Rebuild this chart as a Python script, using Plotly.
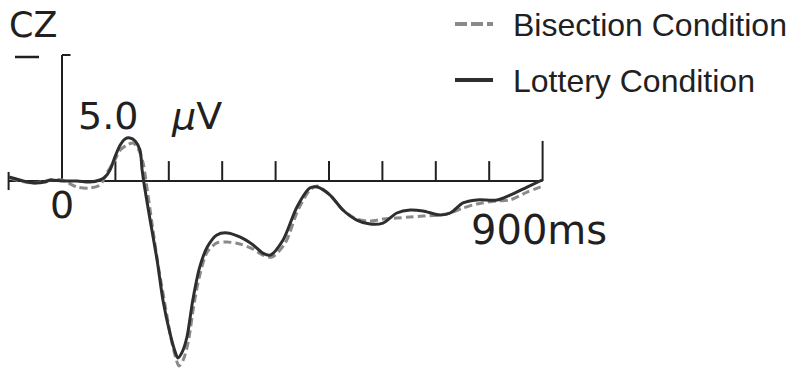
import plotly.graph_objects as go

# ---- data (time in ms, amplitude in microvolts; negative plotted up) ----
lottery_t = [-99, -79, -54, -32, -22, 0, 28, 52, 71, 81, 90, 99, 109, 118, 127, 137, 146, 150, 154,
             165, 178, 189, 202, 212, 217, 225, 234, 245, 258, 272, 290, 309, 333, 358, 376, 390,
             414, 440, 464, 478, 502, 526, 552, 577, 601, 627, 652, 676, 708, 727, 751, 777, 815,
             839, 871, 899]
lottery_v = [-0.16, -0.04, 0.08, 0.04, -0.04, 0.0, 0.0, 0.04, -0.04, -0.16, -0.44, -0.95, -1.43, -1.67,
             -1.71, -1.59, -1.23, -0.44, 0.16, 1.55, 3.13, 4.72, 6.03, 6.79, 7.02, 6.79, 6.19, 4.72,
             3.41, 2.62, 2.14, 2.06, 2.22, 2.54, 2.86, 2.94, 2.34, 1.03, 0.28, 0.24, 0.56, 1.15,
             1.55, 1.71, 1.67, 1.27, 1.15, 1.19, 1.35, 1.27, 0.87, 0.75, 0.75, 0.56, 0.24, -0.04]

bisection_t = [-97, -79, -54, -22, 0, 28, 52, 71, 84, 99, 109, 122, 133, 142, 152, 157, 169, 180, 193,
               204, 213, 219, 227, 236, 247, 258, 272, 290, 309, 333, 358, 376, 393, 418, 442, 464,
               478, 502, 526, 552, 577, 601, 627, 652, 676, 708, 727, 751, 777, 815, 839, 871, 901]
bisection_v = [-0.12, 0.0, 0.08, -0.04, -0.04, 0.24, 0.28, 0.16, -0.32, -0.83, -1.23, -1.43, -1.51,
               -1.31, -0.71, -0.04, 1.75, 3.33, 4.92, 6.23, 7.02, 7.34, 7.10, 6.43, 4.92, 3.73, 2.82,
               2.46, 2.42, 2.50, 2.70, 2.94, 3.02, 2.46, 1.15, 0.36, 0.20, 0.56, 1.15, 1.51, 1.59,
               1.51, 1.47, 1.43, 1.39, 1.35, 1.27, 1.07, 0.91, 0.79, 0.75, 0.44, 0.20]

series_names = ["Bisection Condition", "Lottery Condition"]
x_ticks = [100, 200, 300, 400, 500, 600, 700, 800]
t_start, t_end = -100, 900
scale_uv = -5.0

# ---- geometry helpers (pixel -> data / paper) ----
W, H = 788, 371
PX_PER_MS = 0.534
X0_PX = 62
PX_PER_UV = 25.2
Y0_PX = 181


def px_x(p):
    return (p - X0_PX) / PX_PER_MS


def px_y(p):
    return (p - Y0_PX) / PX_PER_UV


def pap_x(p):
    return p / W


def pap_y(p):
    return 1 - p / H


styles = [
    dict(color="#8a8a8a", width=3, dash="8px,4px"),
    dict(color="#2e2e2e", width=3),
]
legend_dash = ["12px,4px", None]

fig = go.Figure()
fig.add_trace(go.Scatter(x=bisection_t, y=bisection_v, mode="lines", name=series_names[0],
                         line=dict(**styles[0], shape="spline", smoothing=0.8), showlegend=False))
fig.add_trace(go.Scatter(x=lottery_t, y=lottery_v, mode="lines", name=series_names[1],
                         line=dict(**styles[1], shape="spline", smoothing=0.8), showlegend=False))

ax = dict(color="#231f20", width=2)
shapes = []
shapes.append(dict(type="line", xref="x", yref="y", x0=t_start, x1=t_end, y0=0, y1=0, line=ax, layer="below"))
shapes.append(dict(type="line", xref="x", yref="y", x0=t_start, x1=t_start, y0=-0.36, y1=0.36, line=ax, layer="below"))
shapes.append(dict(type="line", xref="x", yref="y", x0=t_end, x1=t_end, y0=0, y1=-1.59, line=ax, layer="below"))
for t in x_ticks:
    shapes.append(dict(type="line", xref="x", yref="y", x0=t, x1=t, y0=0, y1=-0.79, line=ax, layer="below"))
shapes.append(dict(type="line", xref="x", yref="y", x0=0, x1=0, y0=0, y1=scale_uv, line=ax, layer="below"))
shapes.append(dict(type="line", xref="x", yref="y", x0=0, x1=16, y0=scale_uv, y1=scale_uv, line=ax, layer="below"))
# polarity minus sign
shapes.append(dict(type="line", xref="x", yref="y", x0=px_x(15), x1=px_x(39), y0=px_y(57), y1=px_y(57),
                   line=dict(color="#231f20", width=2.5)))

big = dict(family="DejaVu Sans", size=38, color="#231f20")
ann = [
    dict(text="CZ", x=px_x(7), y=px_y(47), xanchor="left", yanchor="bottom",
         font=dict(family="DejaVu Sans", size=35, color="#231f20")),
    dict(text="5.0", x=px_x(76), y=px_y(140), xanchor="left", yanchor="bottom", font=big),
    dict(text="<i>μ</i>V", x=px_x(169), y=px_y(140), xanchor="left", yanchor="bottom", font=big),
    dict(text="0", x=0, y=px_y(181), xanchor="center", yanchor="top", font=big),
    dict(text="900ms", x=px_x(469), y=px_y(205), xanchor="left", yanchor="top",
         font=dict(family="DejaVu Sans", size=40, color="#231f20")),
]
for a in ann:
    a.update(xref="x", yref="y", showarrow=False)

# manual legend
legend_rows = [24, 80]
for i, name in enumerate(series_names):
    ln = dict(color=styles[i]["color"], width=4)
    if legend_dash[i]:
        ln["dash"] = legend_dash[i]
    shapes.append(dict(type="line", xref="paper", yref="paper", x0=pap_x(455), x1=pap_x(493),
                       y0=pap_y(legend_rows[i]), y1=pap_y(legend_rows[i]), line=ln))
    ann.append(dict(text=name, xref="paper", yref="paper", x=pap_x(511), y=pap_y(legend_rows[i] + 1),
                    xanchor="left", yanchor="middle", showarrow=False,
                    font=dict(family="Liberation Sans", size=32, color="#231f20")))

fig.update_layout(
    width=W, height=H,
    margin=dict(l=0, r=0, t=0, b=0),
    paper_bgcolor="white", plot_bgcolor="white",
    xaxis=dict(range=[px_x(0), px_x(W)], visible=False, fixedrange=True),
    yaxis=dict(range=[px_y(H), px_y(0)], visible=False, fixedrange=True),
    shapes=shapes,
    annotations=ann,
    showlegend=False,
)

fig.write_html("out.html")
